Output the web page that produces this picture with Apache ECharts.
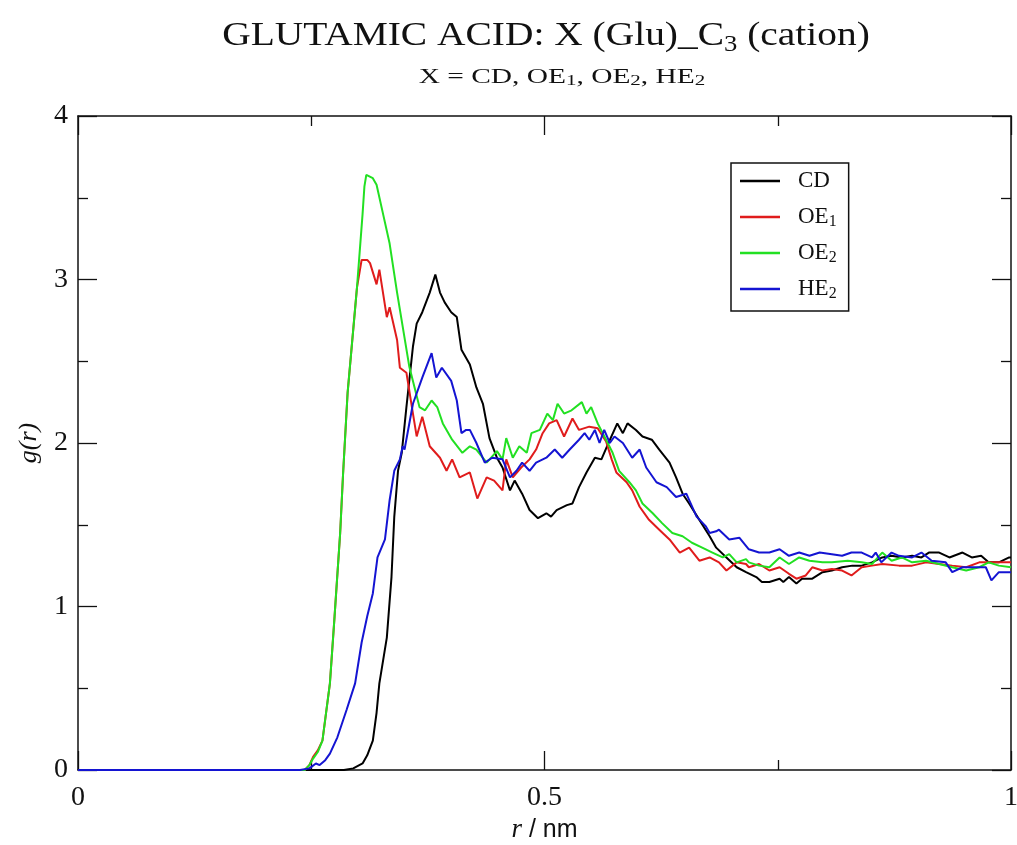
<!DOCTYPE html>
<html>
<head>
<meta charset="utf-8">
<script src="https://cdn.jsdelivr.net/npm/echarts@6/dist/echarts.min.js"></script>
<style>
  html, body { margin: 0; padding: 0; background: #fff; }
  #main { width: 1017px; height: 845px; }
</style>
</head>
<body>
<div id="main"></div>
<script>
// g(r), pairs of [r (nm), g(r)]
var cdData = [
  [0, 0], [0.285, 0], [0.295, 0.01], [0.305, 0.04], [0.310, 0.09], [0.316, 0.18], [0.320, 0.35],
  [0.323, 0.53], [0.331, 0.81], [0.336, 1.18], [0.339, 1.55], [0.343, 1.83], [0.347, 1.94],
  [0.352, 2.22], [0.359, 2.59], [0.363, 2.73], [0.369, 2.80], [0.377, 2.92], [0.383, 3.03],
  [0.388, 2.92], [0.393, 2.86], [0.400, 2.80], [0.406, 2.77], [0.411, 2.57], [0.420, 2.48],
  [0.427, 2.34], [0.434, 2.24], [0.441, 2.03], [0.449, 1.91], [0.455, 1.85], [0.463, 1.71],
  [0.468, 1.77], [0.476, 1.69], [0.484, 1.59], [0.493, 1.54], [0.502, 1.57], [0.507, 1.55],
  [0.513, 1.59], [0.524, 1.62], [0.530, 1.63], [0.537, 1.73], [0.545, 1.82], [0.554, 1.91],
  [0.561, 1.90], [0.567, 1.98], [0.578, 2.12], [0.584, 2.06], [0.589, 2.12], [0.598, 2.08],
  [0.605, 2.04], [0.615, 2.02], [0.623, 1.96], [0.634, 1.88], [0.641, 1.79], [0.648, 1.69],
  [0.655, 1.63], [0.666, 1.53], [0.677, 1.43], [0.684, 1.36], [0.695, 1.30], [0.706, 1.24],
  [0.716, 1.21], [0.727, 1.18], [0.733, 1.15], [0.741, 1.15], [0.752, 1.17], [0.756, 1.15],
  [0.762, 1.18], [0.770, 1.14], [0.776, 1.17], [0.787, 1.17], [0.798, 1.21], [0.808, 1.22],
  [0.819, 1.24], [0.830, 1.25], [0.840, 1.25], [0.851, 1.27], [0.862, 1.30], [0.872, 1.31],
  [0.883, 1.30], [0.894, 1.31], [0.904, 1.30], [0.912, 1.33], [0.923, 1.33], [0.934, 1.30],
  [0.948, 1.33], [0.958, 1.30], [0.968, 1.31], [0.976, 1.27], [0.987, 1.27], [0.998, 1.30], [1.0, 1.30]
];
var oe1Data = [
  [0, 0], [0.243, 0], [0.248, 0.03], [0.252, 0.08], [0.257, 0.12], [0.262, 0.18], [0.270, 0.53],
  [0.275, 0.94], [0.281, 1.45], [0.284, 1.80], [0.289, 2.31], [0.299, 2.95], [0.304, 3.12],
  [0.310, 3.12], [0.313, 3.10], [0.320, 2.97], [0.323, 3.06], [0.331, 2.77], [0.334, 2.83],
  [0.342, 2.63], [0.345, 2.46], [0.352, 2.43], [0.359, 2.18], [0.363, 2.04], [0.369, 2.16],
  [0.377, 1.98], [0.388, 1.91], [0.395, 1.83], [0.401, 1.90], [0.409, 1.79], [0.420, 1.82],
  [0.428, 1.66], [0.438, 1.79], [0.446, 1.77], [0.455, 1.71], [0.459, 1.90], [0.466, 1.79],
  [0.475, 1.85], [0.484, 1.90], [0.491, 1.96], [0.498, 2.06], [0.505, 2.12], [0.513, 2.14],
  [0.521, 2.04], [0.530, 2.15], [0.537, 2.08], [0.548, 2.10], [0.557, 2.09], [0.566, 2.01],
  [0.572, 1.90], [0.577, 1.82], [0.588, 1.76], [0.594, 1.71], [0.602, 1.61], [0.612, 1.53],
  [0.623, 1.47], [0.634, 1.41], [0.645, 1.33], [0.655, 1.36], [0.666, 1.28], [0.677, 1.30],
  [0.687, 1.27], [0.695, 1.22], [0.706, 1.27], [0.716, 1.26], [0.719, 1.24], [0.730, 1.26],
  [0.741, 1.22], [0.752, 1.24], [0.762, 1.20], [0.770, 1.17], [0.780, 1.19], [0.787, 1.24],
  [0.798, 1.22], [0.808, 1.23], [0.819, 1.22], [0.829, 1.19], [0.840, 1.24], [0.851, 1.25],
  [0.862, 1.26], [0.880, 1.25], [0.894, 1.25], [0.909, 1.27], [0.923, 1.26], [0.937, 1.25],
  [0.952, 1.24], [0.966, 1.27], [0.979, 1.27], [0.987, 1.27], [1.0, 1.27]
];
var oe2Data = [
  [0, 0], [0.243, 0], [0.248, 0.03], [0.252, 0.07], [0.257, 0.11], [0.262, 0.18], [0.270, 0.53],
  [0.275, 0.94], [0.281, 1.45], [0.284, 1.80], [0.289, 2.31], [0.299, 2.95], [0.305, 3.40],
  [0.307, 3.57], [0.309, 3.64], [0.316, 3.62], [0.320, 3.58], [0.327, 3.40], [0.334, 3.22],
  [0.342, 2.92], [0.355, 2.47], [0.366, 2.22], [0.372, 2.20], [0.379, 2.26], [0.385, 2.22],
  [0.391, 2.12], [0.401, 2.02], [0.412, 1.94], [0.420, 1.98], [0.427, 1.96], [0.438, 1.88],
  [0.449, 1.95], [0.455, 1.90], [0.459, 2.03], [0.466, 1.91], [0.473, 1.98], [0.481, 1.94],
  [0.486, 2.06], [0.495, 2.08], [0.503, 2.18], [0.509, 2.14], [0.514, 2.24], [0.521, 2.18],
  [0.529, 2.20], [0.540, 2.25], [0.545, 2.18], [0.550, 2.22], [0.557, 2.12], [0.566, 2.02],
  [0.573, 1.94], [0.580, 1.83], [0.591, 1.76], [0.598, 1.71], [0.605, 1.63], [0.616, 1.57],
  [0.626, 1.51], [0.637, 1.45], [0.648, 1.43], [0.658, 1.39], [0.669, 1.36], [0.680, 1.33],
  [0.691, 1.30], [0.698, 1.32], [0.706, 1.27], [0.716, 1.29], [0.719, 1.27], [0.730, 1.25],
  [0.741, 1.24], [0.752, 1.30], [0.762, 1.26], [0.773, 1.30], [0.784, 1.28], [0.798, 1.27],
  [0.808, 1.27], [0.825, 1.28], [0.840, 1.27], [0.851, 1.26], [0.862, 1.33], [0.872, 1.28],
  [0.883, 1.30], [0.894, 1.27], [0.909, 1.28], [0.923, 1.26], [0.937, 1.24], [0.952, 1.22],
  [0.966, 1.24], [0.976, 1.27], [0.987, 1.25], [1.0, 1.24]
];
var he2Data = [
  [0, 0], [0.238, 0], [0.248, 0.01], [0.255, 0.04], [0.259, 0.03], [0.265, 0.06], [0.270, 0.10],
  [0.278, 0.20], [0.288, 0.37], [0.297, 0.53], [0.304, 0.78], [0.310, 0.94], [0.316, 1.08],
  [0.321, 1.30], [0.329, 1.41], [0.334, 1.65], [0.339, 1.83], [0.345, 1.90], [0.348, 1.98],
  [0.350, 1.96], [0.359, 2.24], [0.369, 2.40], [0.379, 2.55], [0.384, 2.40], [0.390, 2.46],
  [0.400, 2.38], [0.406, 2.26], [0.411, 2.06], [0.416, 2.08], [0.420, 2.08], [0.427, 2.00],
  [0.436, 1.88], [0.444, 1.91], [0.455, 1.90], [0.463, 1.79], [0.470, 1.83], [0.476, 1.88],
  [0.484, 1.83], [0.491, 1.88], [0.502, 1.91], [0.511, 1.96], [0.519, 1.91], [0.527, 1.96],
  [0.537, 2.02], [0.543, 2.06], [0.548, 2.02], [0.554, 2.08], [0.559, 2.00], [0.564, 2.08],
  [0.570, 2.00], [0.575, 2.04], [0.584, 2.00], [0.594, 1.91], [0.602, 1.96], [0.609, 1.85],
  [0.620, 1.76], [0.631, 1.73], [0.641, 1.67], [0.652, 1.69], [0.663, 1.55], [0.673, 1.49],
  [0.677, 1.45], [0.684, 1.46], [0.687, 1.47], [0.698, 1.41], [0.709, 1.42], [0.719, 1.35],
  [0.730, 1.33], [0.741, 1.33], [0.752, 1.35], [0.762, 1.31], [0.773, 1.33], [0.784, 1.31],
  [0.795, 1.33], [0.808, 1.32], [0.819, 1.31], [0.829, 1.33], [0.840, 1.33], [0.851, 1.30],
  [0.855, 1.33], [0.861, 1.27], [0.872, 1.33], [0.880, 1.31], [0.894, 1.30], [0.904, 1.33],
  [0.915, 1.28], [0.930, 1.27], [0.937, 1.21], [0.948, 1.24], [0.963, 1.24], [0.973, 1.24],
  [0.979, 1.16], [0.987, 1.21], [0.998, 1.21], [1.0, 1.21]
];

var seriesNames = ["CD", "OE1", "OE2", "HE2"];
var legendLabels = {
  CD: "{sp|}CD",
  OE1: "{sp|}OE{s|1}",
  OE2: "{sp|}OE{s|2}",
  HE2: "{sp|}HE{s|2}"
};
var allData = [cdData, oe1Data, oe2Data, he2Data];
var colors = ["#000000", "#e01c1c", "#22e022", "#1414d2"];

var serif = "'Liberation Serif', 'Times New Roman', serif";
var sans = "'Liberation Sans', Arial, sans-serif";

var chart = echarts.init(document.getElementById("main"));

// shared look of the four axis edges (ticks inside, mirrored on top/right)
function edgeAxis(extra) {
  return Object.assign({
    type: "value",
    axisLine: { show: true, onZero: false, lineStyle: { color: "#111", width: 1.5 } },
    axisTick: { show: true, inside: true, length: 19, lineStyle: { color: "#111", width: 1.3 } },
    minorTick: { show: true, splitNumber: 2, length: 10, lineStyle: { color: "#111", width: 1.3 } },
    splitLine: { show: false }
  }, extra);
}

var series = seriesNames.map(function (name, i) {
  return {
    name: name,
    type: "line",
    data: allData[i],
    showSymbol: false,
    symbol: "none",
    color: colors[i],
    lineStyle: { color: colors[i], width: 2 },
    xAxisIndex: 0,
    yAxisIndex: 0,
    animation: false
  };
});

chart.setOption({
  animation: false,
  backgroundColor: "#fff",
  grid: { left: 78, right: 6, top: 116, bottom: 75, containLabel: false, outerBoundsMode: "none" },
  xAxis: [
    edgeAxis({
      position: "bottom", min: 0, max: 1, interval: 0.5,
      axisLabel: { margin: 14, fontSize: 28, fontFamily: serif, color: "#111" },
      name: "{i|r}{n| / nm}",
      nameLocation: "middle",
      nameGap: 44,
      nameTextStyle: {
        rich: {
          i: { fontFamily: serif, fontStyle: "italic", fontSize: 27, color: "#111" },
          n: { fontFamily: sans, fontSize: 25, color: "#111" }
        }
      }
    }),
    edgeAxis({ position: "top", min: 0, max: 1, interval: 0.5, axisLabel: { show: false } })
  ],
  yAxis: [
    edgeAxis({
      position: "left", min: 0, max: 4, interval: 1,
      axisLabel: { margin: 10, fontSize: 28, fontFamily: serif, color: "#111" },
      name: "g(r)",
      nameLocation: "middle",
      nameGap: 36,
      nameTextStyle: { fontFamily: serif, fontStyle: "italic", fontSize: 26, color: "#111" }
    }),
    edgeAxis({ position: "right", min: 0, max: 4, interval: 1, axisLabel: { show: false } })
  ],
  legend: {
    data: seriesNames,
    orient: "vertical",
    left: 731,
    top: 163,
    padding: [5, 12, 9, 9],
    itemGap: 10,
    itemWidth: 40,
    itemHeight: 2.5,
    icon: "rect",
    borderColor: "#111",
    borderWidth: 1.5,
    borderRadius: 0,
    formatter: function (name) { return legendLabels[name]; },
    textStyle: {
      fontFamily: serif,
      fontSize: 23,
      color: "#111",
      lineHeight: 26,
      rich: {
        sp: { width: 13 },
        s: { fontFamily: serif, fontSize: 16, lineHeight: 14, verticalAlign: "bottom", color: "#111" }
      }
    }
  },
  graphic: [
    {
      type: "text",
      x: 546,
      y: 36,
      scaleX: 1.16,
      style: {
        text: "GLUTAMIC ACID: X (Glu)_C{s|3} (cation)",
        fontFamily: serif,
        fontSize: 34,
        lineHeight: 40,
        fill: "#111",
        align: "center",
        verticalAlign: "middle",
        rich: {
          s: { fontFamily: serif, fontSize: 23, lineHeight: 22, verticalAlign: "bottom", fill: "#111" }
        }
      }
    },
    {
      type: "text",
      x: 562,
      y: 77,
      scaleX: 1.4,
      style: {
        text: "X = CD, OE{s|1}, OE{s|2}, HE{s|2}",
        fontFamily: serif,
        fontSize: 21,
        lineHeight: 24,
        fill: "#111",
        align: "center",
        verticalAlign: "middle",
        rich: {
          s: { fontFamily: serif, fontSize: 15, lineHeight: 12, verticalAlign: "bottom", fill: "#111" }
        }
      }
    }
  ],
  series: series
});
</script>
</body>
</html>
